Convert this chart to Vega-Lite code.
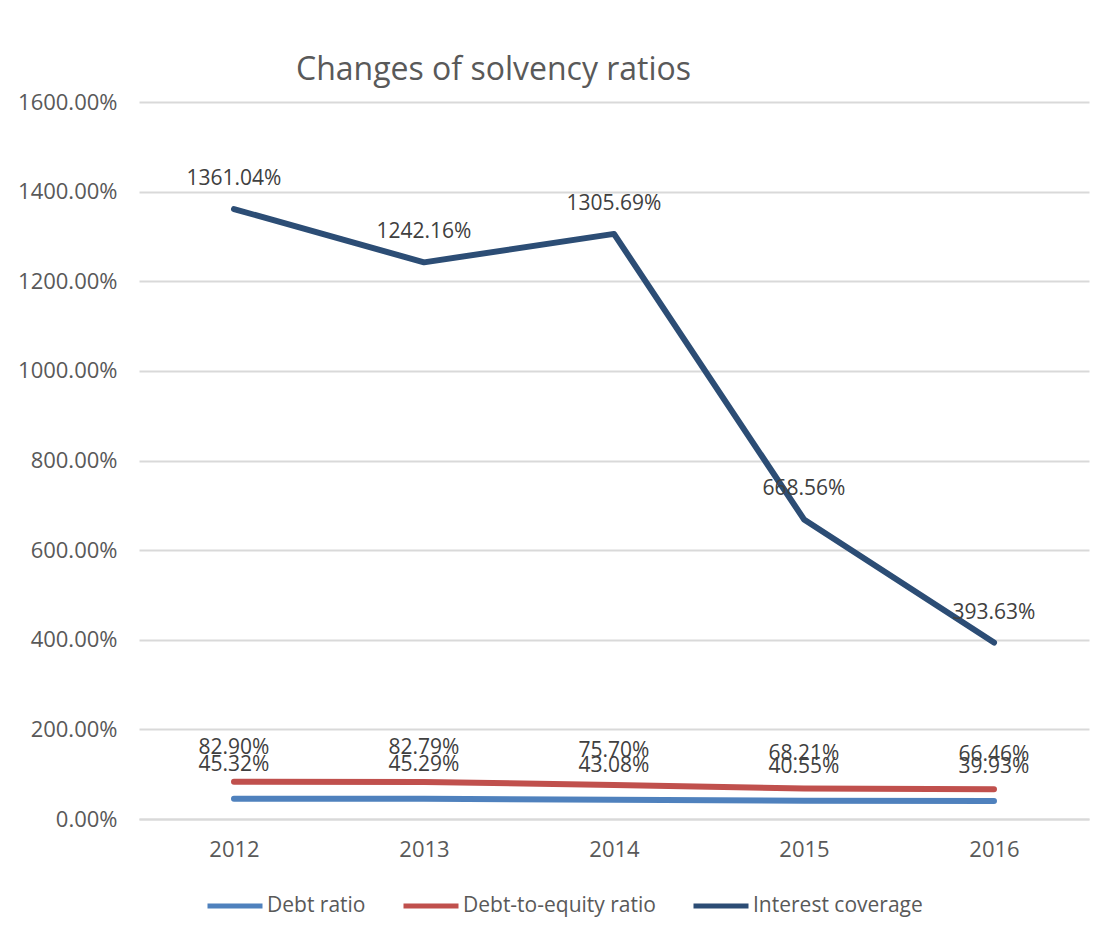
{
  "$schema": "https://vega.github.io/schema/vega-lite/v6.json",
  "width": 950,
  "height": 717,
  "autosize": {"type": "none"},
  "padding": {"left": 139, "top": 102, "right": 29, "bottom": 122},
  "background": "white",
  "config": {"view": {"stroke": null}},
  "title": {
    "text": "Changes of solvency ratios",
    "anchor": "start",
    "frame": "group",
    "dx": 157,
    "offset": 4,
    "font": "Open Sans",
    "fontSize": 32,
    "fontWeight": "normal",
    "color": "#595959"
  },
  "data": {
    "values": [
      {"year": "2012", "series": "Debt ratio", "value": 45.32},
      {"year": "2013", "series": "Debt ratio", "value": 45.29},
      {"year": "2014", "series": "Debt ratio", "value": 43.08},
      {"year": "2015", "series": "Debt ratio", "value": 40.55},
      {"year": "2016", "series": "Debt ratio", "value": 39.93},
      {"year": "2012", "series": "Debt-to-equity ratio", "value": 82.90},
      {"year": "2013", "series": "Debt-to-equity ratio", "value": 82.79},
      {"year": "2014", "series": "Debt-to-equity ratio", "value": 75.70},
      {"year": "2015", "series": "Debt-to-equity ratio", "value": 68.21},
      {"year": "2016", "series": "Debt-to-equity ratio", "value": 66.46},
      {"year": "2012", "series": "Interest coverage", "value": 1361.04},
      {"year": "2013", "series": "Interest coverage", "value": 1242.16},
      {"year": "2014", "series": "Interest coverage", "value": 1305.69},
      {"year": "2015", "series": "Interest coverage", "value": 668.56},
      {"year": "2016", "series": "Interest coverage", "value": 393.63}
    ]
  },
  "transform": [
    {"calculate": "format(datum.value, '.2f') + '%'", "as": "label"}
  ],
  "encoding": {
    "x": {
      "field": "year",
      "type": "ordinal",
      "scale": {"type": "point", "padding": 0.5},
      "axis": {
        "title": null,
        "labelAngle": 0,
        "labelFont": "Open Sans",
        "labelFontSize": 22,
        "labelColor": "#595959",
        "labelPadding": 20,
        "ticks": false,
        "domain": true,
        "domainColor": "#d9d9d9",
        "domainWidth": 2,
        "grid": false
      }
    },
    "y": {
      "field": "value",
      "type": "quantitative",
      "scale": {"domain": [0, 1600], "nice": false},
      "axis": {
        "title": null,
        "values": [0, 200, 400, 600, 800, 1000, 1200, 1400, 1600],
        "labelExpr": "format(datum.value, '.2f') + '%'",
        "labelFont": "Open Sans",
        "labelFontSize": 22,
        "labelColor": "#595959",
        "labelPadding": 22,
        "ticks": false,
        "domain": false,
        "grid": true,
        "gridColor": "#d9d9d9",
        "gridWidth": 2
      }
    }
  },
  "layer": [
    {
      "mark": {"type": "line", "strokeWidth": 6, "strokeCap": "round", "strokeJoin": "round"},
      "encoding": {
        "color": {
          "field": "series",
          "type": "nominal",
          "scale": {
            "domain": ["Debt ratio", "Debt-to-equity ratio", "Interest coverage"],
            "range": ["#4F81BD", "#C0504D", "#2C4D75"]
          },
          "legend": {
            "title": null,
            "orient": "none",
            "direction": "horizontal",
            "legendX": 66,
            "legendY": 774,
            "symbolType": "stroke",
            "symbolSize": 3025,
            "symbolStrokeWidth": 5,
            "labelFont": "Open Sans",
            "labelFontSize": 21,
            "labelColor": "#595959",
            "labelOffset": 2,
            "columnPadding": 27,
            "labelLimit": 400
          }
        }
      }
    },
    {
      "transform": [{"filter": "datum.series === 'Interest coverage'"}],
      "mark": {
        "type": "text",
        "dy": -30,
        "font": "Open Sans",
        "fontSize": 21,
        "color": "#404040",
        "baseline": "middle",
        "align": "center"
      },
      "encoding": {
        "text": {"field": "label", "type": "nominal"}
      }
    },
    {
      "transform": [{"filter": "datum.series !== 'Interest coverage'"}],
      "mark": {
        "type": "text",
        "dy": -34,
        "font": "Open Sans",
        "fontSize": 21,
        "color": "#404040",
        "baseline": "middle",
        "align": "center"
      },
      "encoding": {
        "text": {"field": "label", "type": "nominal"}
      }
    }
  ]
}
